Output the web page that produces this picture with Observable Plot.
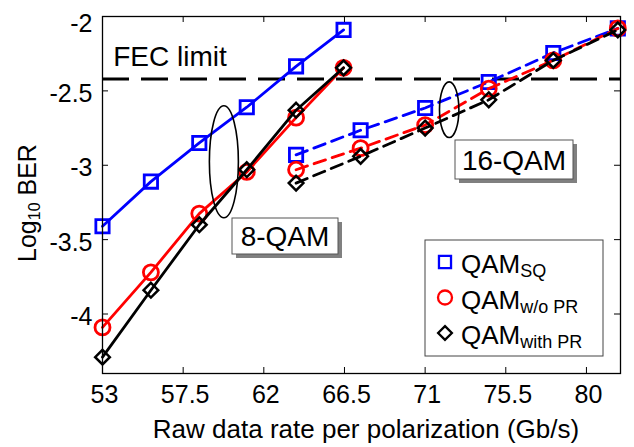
<!DOCTYPE html>
<html><head><meta charset="utf-8">
<script src="https://cdn.jsdelivr.net/npm/d3@7"></script>
<script src="https://cdn.jsdelivr.net/npm/@observablehq/plot@0.6"></script>
<style>
body{margin:0;background:#fff;}
svg{display:block}
</style>
</head><body><div id="chart"></div>
<script>
// ---- data ----
const rate8  = [53.0, 55.7, 58.4, 61.05, 63.8, 66.45];
const rate16 = [63.8, 67.4, 71.0, 74.55, 78.15, 81.75];
const ber8SQ    = [-3.41, -3.11, -2.85, -2.61, -2.335, -2.09];
const ber8WoPR  = [-4.09, -3.72, -3.325, -3.045, -2.68, -2.345];
const ber8WithPR= [-4.29, -3.84, -3.40, -3.03, -2.63, -2.345];
const ber16SQ    = [-2.93, -2.765, -2.615, -2.44, -2.245, -2.08];
const ber16WoPR  = [-3.03, -2.885, -2.73, -2.485, -2.295, -2.08];
const ber16WithPR= [-3.12, -2.94, -2.75, -2.56, -2.295, -2.09];
const schemes = ["QAM_SQ", "QAM_w/o PR", "QAM_with PR"];
const schemeColors = ["#0000ff", "#ff0000", "#000000"];
const xTicks = [53, 57.5, 62, 66.5, 71, 75.5, 80];
const yTicks = [-2, -2.5, -3, -3.5, -4];
const fecLimit = -2.42;

const rows = [];
[["8-QAM", rate8, [ber8SQ, ber8WoPR, ber8WithPR]],
 ["16-QAM", rate16, [ber16SQ, ber16WoPR, ber16WithPR]]].forEach(([mod, xs, series]) =>
  series.forEach((ys, si) => xs.forEach((x, i) =>
    rows.push({mod, scheme: schemes[si], rate: x, ber: ys[i]}))));

// ---- layout ----
const W = 634, H = 447;
const mL = 102, mR = 14, mT = 16, mB = 74;
const pW = W - mL - mR, pH = H - mT - mB;
const FONT = "'Liberation Sans', Arial, sans-serif";

const symbols = {"QAM_SQ": "square", "QAM_w/o PR": "circle", "QAM_with PR": "diamond2"};
const radius = {"QAM_SQ": 7.5, "QAM_w/o PR": 7.5, "QAM_with PR": 6.6};
const dotWidth = {"QAM_SQ": 2.8, "QAM_w/o PR": 2.8, "QAM_with PR": 2.5};

const seriesMarks = [];
for (const mod of ["8-QAM", "16-QAM"]) {
  for (const s of schemes) {
    const d = rows.filter(r => r.mod === mod && r.scheme === s);
    seriesMarks.push(Plot.line(d, {x: "rate", y: "ber", stroke: "scheme", strokeWidth: 2.8,
      strokeDasharray: mod === "16-QAM" ? "12,7" : null}));
    seriesMarks.push(Plot.dot(d, {x: "rate", y: "ber", stroke: "scheme", symbol: () => symbols[s],
      r: radius[s], strokeWidth: dotWidth[s], fill: "none"}));
  }
}

const plot = Plot.plot({
  width: W, height: H,
  marginLeft: mL, marginRight: mR, marginTop: mT, marginBottom: mB,
  style: {fontFamily: FONT, background: "#fff", color: "#000"},
  x: {domain: [53, 81.9]},
  y: {domain: [-4.4, -2]},
  color: {domain: schemes, range: schemeColors},
  symbol: {type: "identity"},
  marks: [
    Plot.ruleY([fecLimit], {strokeWidth: 3, strokeDasharray: "27,12", stroke: "#000"}),
    ...seriesMarks,
    Plot.frame({stroke: "#000", strokeWidth: 1.3}),
    Plot.tickX(xTicks, {x: d => d, insetTop: pH - 6, stroke: "#000"}),
    Plot.tickX(xTicks, {x: d => d, insetBottom: pH - 6, stroke: "#000"}),
    Plot.tickY(yTicks, {y: d => d, insetRight: pW - 6, stroke: "#000"}),
    Plot.tickY(yTicks, {y: d => d, insetLeft: pW - 6, stroke: "#000"}),
    Plot.axisX({ticks: xTicks, tickSize: 0, tickPadding: 12, dx: 2, fontSize: 25,
      tickFormat: d => String(d), label: null}),
    Plot.axisY({ticks: yTicks.slice(1), tickSize: 0, tickPadding: 10, dy: 3, fontSize: 25,
      tickFormat: d => String(d), label: null}),
    Plot.axisY({ticks: yTicks.slice(0, 1), tickSize: 0, tickPadding: 10, dy: 7, fontSize: 25,
      tickFormat: d => String(d), label: null}),
    Plot.text(["FEC limit"], {x: 53.6, y: -2.275, text: d => d, textAnchor: "start",
      fontSize: 28, fill: "#000"})
  ]
});

document.getElementById("chart").appendChild(plot);

// ---- annotations ----
const svg = d3.select(plot);
const sx = plot.scale("x"), sy = plot.scale("y");

// axis titles
svg.append("text").attr("x", 366).attr("y", 438).attr("text-anchor", "middle")
  .attr("font-size", 26).attr("font-family", FONT).text("Raw data rate per polarization (Gb/s)");
const yt = svg.append("text").attr("transform", "translate(36,203) rotate(-90)")
  .attr("text-anchor", "middle").attr("font-size", 25).attr("font-family", FONT);
yt.append("tspan").text("Log");
yt.append("tspan").attr("font-size", 16).attr("dy", 4).text("10");
yt.append("tspan").attr("dy", -4).text(" BER");

// ellipses
const ellipses = [{x: 59.8, y: -2.98, rx: 14.5, ry: 56}, {x: 72.37, y: -2.63, rx: 9.7, ry: 27.8}];
for (const e of ellipses) {
  svg.append("ellipse").attr("cx", sx.apply(e.x)).attr("cy", sy.apply(e.y))
    .attr("rx", e.rx).attr("ry", e.ry).attr("fill", "none").attr("stroke", "#000").attr("stroke-width", 1.6);
}

// label boxes
const boxes = [{t: "8-QAM", x: 232, y: 218, w: 106, h: 36}, {t: "16-QAM", x: 455, y: 140, w: 118, h: 39}];
for (const b of boxes) {
  svg.append("rect").attr("x", b.x + 4).attr("y", b.y + 4).attr("width", b.w).attr("height", b.h).attr("fill", "#808080");
  svg.append("rect").attr("x", b.x).attr("y", b.y).attr("width", b.w).attr("height", b.h)
    .attr("fill", "#fff").attr("stroke", "#555").attr("stroke-width", 1);
  svg.append("text").attr("x", b.x + b.w / 2).attr("y", b.y + b.h / 2 + 10).attr("text-anchor", "middle")
    .attr("font-size", 28).attr("font-family", FONT).text(b.t);
}

// legend
const lg = svg.append("g");
lg.append("rect").attr("x", 425).attr("y", 240).attr("width", 178).attr("height", 116)
  .attr("fill", "#fff").attr("stroke", "#444").attr("stroke-width", 1);
const legendSubs = ["SQ", "w/o PR", "with PR"];
const legendSym = [d3.symbolSquare, d3.symbolCircle, d3.symbolDiamond2];
const legendSize = [6.8, 7, 6.2];
schemes.forEach((s, i) => {
  const cy = 262 + i * 35.5;
  lg.append("path").attr("d", d3.symbol(legendSym[i], Math.PI * legendSize[i] ** 2)())
    .attr("transform", `translate(445,${cy})`).attr("fill", "none")
    .attr("stroke", schemeColors[i]).attr("stroke-width", 2.3);
  const t = lg.append("text").attr("x", 461).attr("y", cy + 11).attr("text-anchor", "start")
    .attr("font-size", 26).attr("font-family", FONT);
  t.append("tspan").text("QAM");
  t.append("tspan").attr("font-size", 18).attr("dy", 4).text(legendSubs[i]);
});
</script>
</body></html>
